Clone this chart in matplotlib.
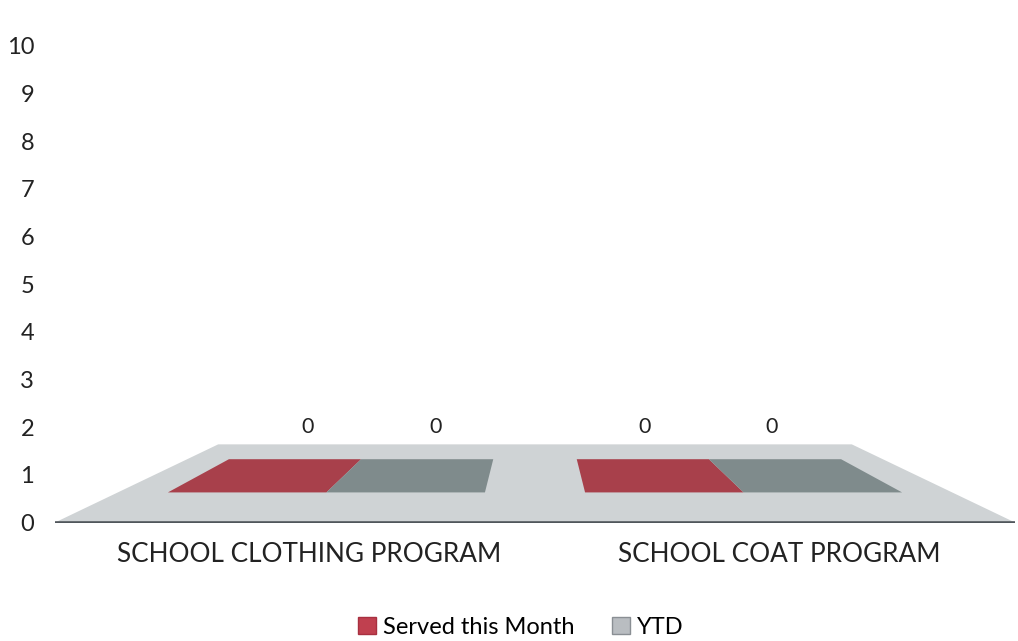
import matplotlib
matplotlib.use('Agg')
import matplotlib.pyplot as plt
import matplotlib.transforms as mtransforms
from matplotlib.patches import Polygon, Patch

plt.rcParams['font.family'] = ['Lato', 'DejaVu Sans']

# Data
categories = ['SCHOOL CLOTHING PROGRAM', 'SCHOOL COAT PROGRAM']
series_names = ['Served this Month', 'YTD']
served = [0, 0]
ytd = [0, 0]
y_ticks = list(range(0, 11))

RED = '#a8404b'
GRAY = '#7f8b8c'
FLOOR = '#cfd3d5'

# simple fake-3D floor projection in data coordinates
FLOOR_Y = 1.64      # how high the back edge of the floor sits (y units)
SHRINK = 0.34       # perspective narrowing at the back edge
VX = 1.0            # vanishing x


def proj(x, d, h=0.0):
    s = 1 - SHRINK * d
    return VX + (x - VX) * s, d * FLOOR_Y + h


fig = plt.figure(figsize=(10.18, 6.41), dpi=100)
ax = fig.add_axes([55 / 1018, 118.5 / 641, 960 / 1018, 476.5 / 641])
ax.set_xlim(0, 2)
ax.set_ylim(0, 10)

# floor
floor = [proj(0, 0), proj(2, 0), proj(2, 1), proj(0, 1)]
ax.add_patch(Polygon(floor, closed=True, facecolor=FLOOR, edgecolor='none', zorder=1))
ax.plot([0, 2], [0, 0], color='#50565b', lw=2.6, zorder=2, solid_capstyle='butt')

# bars (flat because values are zero)
bar_w = 0.38
d0, d1 = 0.385, 0.81
for i, cat in enumerate(categories):
    c = i + 0.5
    for j, (vals, col) in enumerate([(served, RED), (ytd, GRAY)]):
        h = vals[i]
        x0 = c - bar_w + j * bar_w
        x1 = x0 + bar_w
        if h > 0:
            front = [proj(x0, d0), proj(x1, d0), proj(x1, d0, h), proj(x0, d0, h)]
            ax.add_patch(Polygon(front, closed=True, facecolor=col, edgecolor='none', zorder=3))
        top = [proj(x0, d0, h), proj(x1, d0, h), proj(x1, d1, h), proj(x0, d1, h)]
        ax.add_patch(Polygon(top, closed=True, facecolor=col, edgecolor='none', zorder=4))
        lx, ly = proj((x0 + x1) / 2, 0.88, h)
        ax.text(lx + 0.01, ly + 0.56, f'{h}', ha='center', va='center', fontsize=15.5, color='#222222')

ax.set_yticks(y_ticks)
ax.set_yticklabels([str(t) for t in y_ticks], fontsize=17, color='#222222')
ax.set_xticks([0.5, 1.5])
ax.set_xticklabels(categories, fontsize=18.8, color='#222222')
ax.tick_params(axis='y', length=0, pad=15)
ax.tick_params(axis='x', length=0, pad=14)
for sp in ax.spines.values():
    sp.set_visible(False)

# nudge category labels a little to the right, like the original
for lab, dx in zip(ax.get_xticklabels(), [0.14, 0.04]):
    lab.set_transform(lab.get_transform() + mtransforms.ScaledTranslation(dx, 0, fig.dpi_scale_trans))

handles = [Patch(facecolor='#c0404f', edgecolor='#a83040'),
           Patch(facecolor='#b9bdc1', edgecolor='#8a8f94')]
fig.legend(handles, series_names, loc='center', bbox_to_anchor=(521 / 1018, 14 / 641),
           ncol=2, frameon=False, fontsize=17, handlelength=0.75, handleheight=0.75,
           handletextpad=0.3, columnspacing=1.6)

plt.savefig('out.png', dpi=100)
